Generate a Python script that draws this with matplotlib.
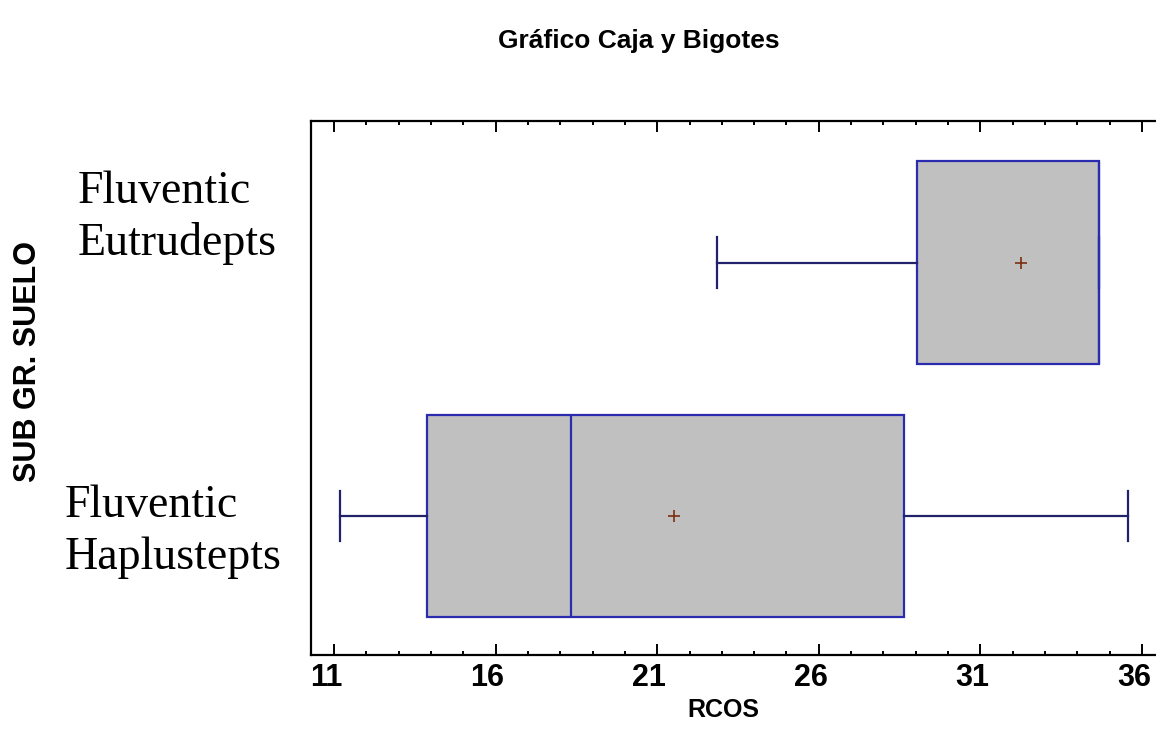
import matplotlib
matplotlib.use("Agg")
import matplotlib.pyplot as plt
from matplotlib.ticker import MultipleLocator
from matplotlib.transforms import ScaledTranslation

# summary stats per soil subgroup (RCOS)
groups = ["Fluventic\nHaplustepts", "Fluventic\nEutrudepts"]
whis_lo = [11.2, 22.84]
q1 = [13.87, 29.04]
median = [18.33, 34.68]
q3 = [28.65, 34.68]
whis_hi = [35.58, 34.68]
means = [21.53, 32.26]
xticks = [11, 16, 21, 26, 31, 36]

box_fill = "#c0c0c0"
box_edge = "#2b2bb0"
whisk_col = "#22226a"
mean_col = "#7a3010"

fig = plt.figure(figsize=(11.56, 7.33), dpi=100)
ax = fig.add_axes([0.2688, 0.1064, 0.7356, 0.7285])

stats = []
for i in range(len(groups)):
    stats.append({"whislo": whis_lo[i], "q1": q1[i], "med": median[i],
                  "q3": q3[i], "whishi": whis_hi[i], "mean": means[i],
                  "fliers": []})

ax.bxp(stats, positions=[1, 2], orientation="horizontal", widths=0.8,
       patch_artist=True, showmeans=True, showfliers=False,
       boxprops=dict(facecolor=box_fill, edgecolor=box_edge, linewidth=1.6),
       medianprops=dict(color=box_edge, linewidth=1.6),
       whiskerprops=dict(color=whisk_col, linewidth=1.6),
       capprops=dict(color=whisk_col, linewidth=1.6),
       capwidths=0.2,
       meanprops=dict(marker="+", markeredgecolor=mean_col, markersize=8,
                      markeredgewidth=1.2))

ax.set_xlim(10.28, 36.59)
ax.set_ylim(0.452, 2.558)
ax.set_yticks([])
ax.set_xticks(xticks)
ax.set_xticklabels([str(t) for t in xticks], family="Liberation Sans",
                   fontweight="bold", fontsize=22)
ax.xaxis.set_minor_locator(MultipleLocator(1))
ax.tick_params(axis="x", which="both", direction="in", top=True, bottom=True,
               width=1.4, colors="black", pad=6)
ax.tick_params(axis="x", which="major", length=8)
ax.tick_params(axis="x", which="minor", length=3)
# labels sit a little left of their ticks
shift = ScaledTranslation(-8 / 100, 0, fig.dpi_scale_trans)
for lab in ax.get_xticklabels():
    lab.set_transform(lab.get_transform() + shift)
for side in ["left", "top", "bottom"]:
    ax.spines[side].set_linewidth(1.6)
ax.spines["right"].set_visible(False)

fig.text(0.553, 0.944, "Gráfico Caja y Bigotes", ha="center", va="center",
         family="Liberation Sans", fontweight="bold", fontsize=19)
fig.text(0.626, 0.032, "RCOS", ha="center", va="center",
         family="Liberation Sans", fontweight="bold", fontsize=18)
fig.text(0.024, 0.507, "SUB GR. SUELO", ha="center", va="center", rotation=90,
         family="Liberation Sans", fontweight="bold", fontsize=22)

# subgroup names beside the boxes
fig.text(0.0675, 0.703, groups[1], ha="left", va="center", linespacing=1.3,
         family="Liberation Serif", fontsize=33)
fig.text(0.056, 0.275, groups[0], ha="left", va="center", linespacing=1.3,
         family="Liberation Serif", fontsize=33)

fig.savefig("out.png", dpi=100)
